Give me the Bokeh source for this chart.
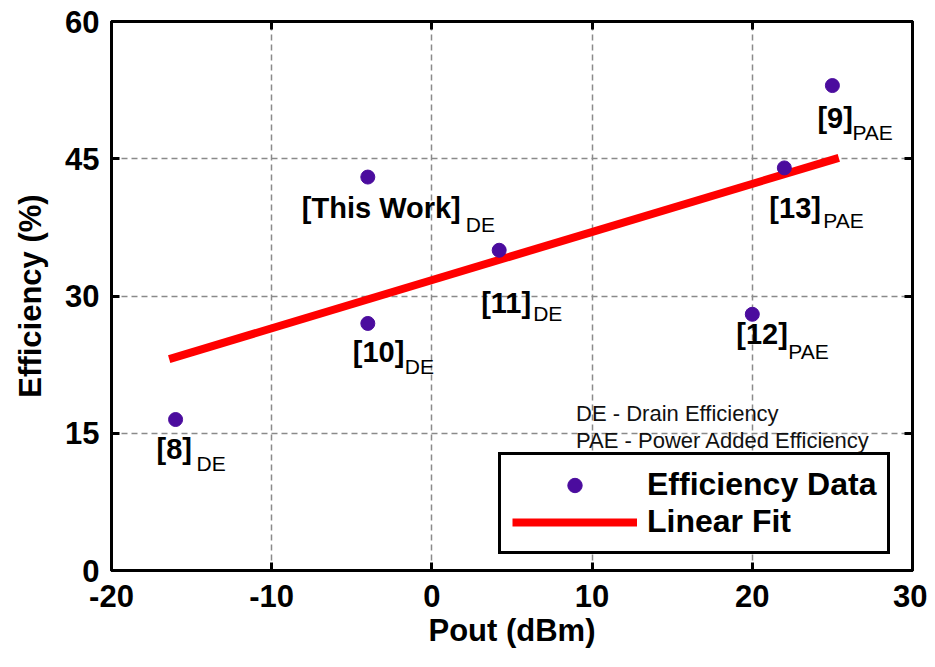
from bokeh.plotting import figure
from bokeh.models import (Range1d, FixedTicker, LinearAxis, Legend, LegendItem,
                          ColumnDataSource, Label)
from bokeh.core.properties import value
from bokeh.embed import file_html
from bokeh.resources import INLINE

# ---- data ----
pout = [-16, -4, -4, 4.2, 20, 22, 25]
efficiency = [16.5, 43, 27, 35, 28, 44, 53]
ref_names = ["[8]", "[This Work]", "[10]", "[11]", "[12]", "[13]", "[9]"]
ref_subs = ["DE", "DE", "DE", "DE", "PAE", "PAE", "PAE"]
fit_x = [-16.4, 25.4]
fit_y = [23.1, 45.1]
x_ticks = [-20, -10, 0, 10, 20, 30]
y_ticks = [0, 15, 30, 45, 60]
x_tick_text = {-20: "-20", -10: "-10", 0: "0", 10: "10", 20: "20", 30: "30"}

# label placement (pixel offsets from each point)
main_dx = [-19, -66, -15, -18, -16, -15, -15]
main_dy = [29, 31, 29, 53, 20, 40, 32]
sub_dx = [21, 98, 37, 34, 36, 39, 20]
sub_dy = [44, 47, 43, 63, 37, 53, 47]

FONT = "Liberation Sans"
PURPLE = "#4B0C9E"

p = figure(width=927, height=659, output_backend="svg", toolbar_location=None,
           x_range=Range1d(-20, 30), y_range=Range1d(0, 60),
           min_border_left=111, min_border_right=15, min_border_top=21,
           min_border_bottom=89, x_axis_label="Pout (dBm)",
           y_axis_label="Efficiency (%)")
p.background_fill_color = "white"
p.border_fill_color = "white"
p.outline_line_color = "black"
p.outline_line_width = 3

for ax in (p.xaxis[0], p.yaxis[0]):
    ax.axis_line_width = 3
    ax.major_tick_in = 8
    ax.major_tick_out = 0
    ax.major_tick_line_width = 3
    ax.minor_tick_line_color = None
    ax.major_label_text_font = FONT
    ax.major_label_text_font_style = "bold"
    ax.major_label_text_font_size = "31px"
    ax.major_label_text_color = "black"
    ax.axis_label_text_font = FONT
    ax.axis_label_text_font_style = "bold"
    ax.axis_label_text_font_size = "31px"
    ax.axis_label_text_color = "black"
p.xaxis[0].ticker = FixedTicker(ticks=x_ticks)
p.xaxis[0].major_label_overrides = x_tick_text
p.yaxis[0].ticker = FixedTicker(ticks=y_ticks)
p.xaxis[0].major_label_standoff = 14
p.xaxis[0].axis_label_standoff = 3
p.yaxis[0].major_label_standoff = 12
p.yaxis[0].axis_label_standoff = 14

for loc, tk in (("above", x_ticks), ("right", y_ticks)):
    ax = LinearAxis(ticker=FixedTicker(ticks=tk), major_label_text_font_size="1px",
                    major_label_text_color=None,
                    major_label_standoff=0, major_tick_in=8, major_tick_out=0,
                    major_tick_line_width=3, minor_tick_line_color=None,
                    axis_line_width=3)
    p.add_layout(ax, loc)

for g in (p.xgrid[0], p.ygrid[0]):
    g.grid_line_color = "#8a8a8a"
    g.grid_line_dash = "6 4"
    g.grid_line_width = 1.5
p.xgrid[0].ticker = FixedTicker(ticks=x_ticks)
p.ygrid[0].ticker = FixedTicker(ticks=y_ticks)

fit_r = p.line(fit_x, fit_y, line_color="#FF0000", line_width=8)

src = ColumnDataSource(dict(x=pout, y=efficiency, name=ref_names, sub=ref_subs,
                            mdx=main_dx, mdy=main_dy, sdx=sub_dx, sdy=sub_dy))
pts = p.scatter("x", "y", source=src, size=14, fill_color=PURPLE,
                line_color=PURPLE)

p.text("x", "y", text="name", source=src, x_offset="mdx", y_offset="mdy",
       text_font=value(FONT), text_font_style="bold", text_font_size="29px",
       text_color="black", text_align="left", text_baseline="alphabetic")
p.text("x", "y", text="sub", source=src, x_offset="sdx", y_offset="sdy",
       text_font=value(FONT), text_font_style="normal", text_font_size="21px",
       text_color="black", text_align="left", text_baseline="alphabetic")

for txt, yy in (("DE - Drain Efficiency", 17.2), ("PAE - Power Added Efficiency", 14.2)):
    p.add_layout(Label(x=9.0, y=yy, text=txt, text_font=FONT,
                       text_font_size="22px", text_color="#111111",
                       text_align="left", text_baseline="alphabetic"))

legend = Legend(items=[LegendItem(label="Efficiency Data", renderers=[pts]),
                       LegendItem(label="Linear Fit", renderers=[fit_r])],
                location=(387, 16), padding=11, spacing=0, glyph_width=125,
                glyph_height=36, label_height=36, label_standoff=10, margin=0,
                label_text_font=FONT, label_text_font_style="bold",
                label_text_font_size="32px", label_text_color="black",
                border_line_color="black", border_line_width=3,
                border_line_alpha=1.0,
                background_fill_color="white", background_fill_alpha=1.0)
p.add_layout(legend, "center")

open("out.html", "w").write(file_html(p, INLINE))
